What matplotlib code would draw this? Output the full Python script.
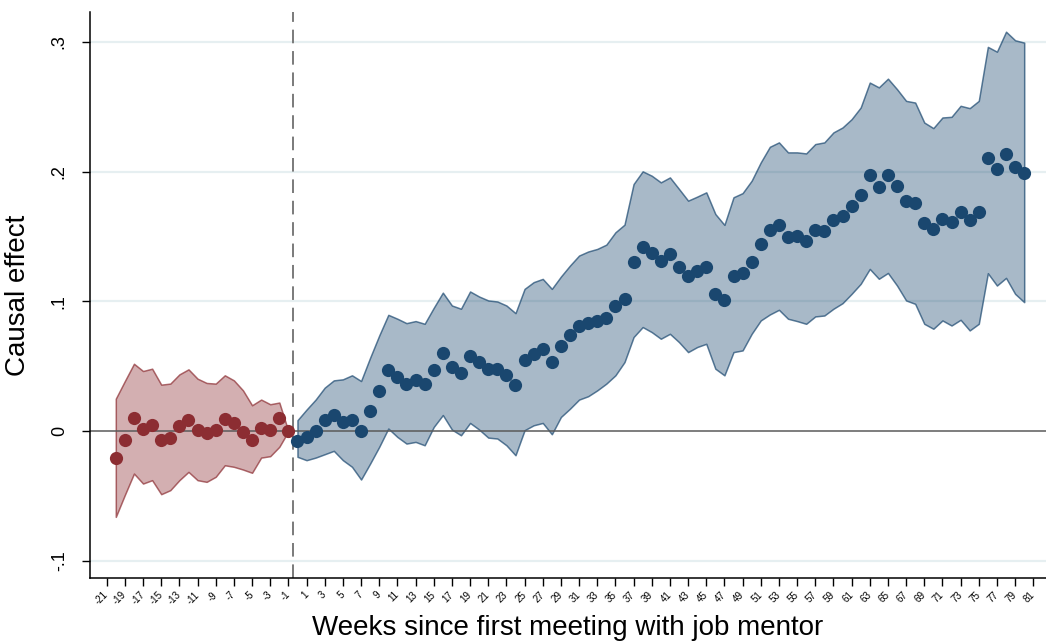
import matplotlib
matplotlib.use("Agg")
import matplotlib.pyplot as plt
import numpy as np

plt.rcParams["font.family"] = ["Liberation Sans", "DejaVu Sans"]

# pre-period estimates (weeks -20 .. -1), week -1 is the reference
pre_weeks = list(range(-20, 0))
pre_coef = [-0.021, -0.0064, 0.0102, 0.002, 0.0046, -0.0064, -0.0049, 0.0038, 0.0085, 0.0008,
            -0.0013, 0.0013, 0.0097, 0.0064, -0.0005, -0.0064, 0.0028, 0.0008, 0.0102, 0.0]
pre_hi = [0.0251, 0.0387, 0.052, 0.0464, 0.0482, 0.0359, 0.0367, 0.0438, 0.0477, 0.0405,
          0.0372, 0.0367, 0.0431, 0.0392, 0.0315, 0.02, 0.0244, 0.0208, 0.0221, 0.0]
pre_lo = [-0.066, -0.049, -0.0326, -0.0403, -0.0377, -0.0485, -0.0454, -0.0377, -0.0313, -0.0377,
          -0.039, -0.0351, -0.0262, -0.0274, -0.0295, -0.032, -0.0203, -0.0192, -0.012, 0.0]

# post-period estimates (weeks 0 .. 80)
post_weeks = list(range(0, 81))
post_coef = [-0.0074, -0.0044, 0.0002, 0.0085, 0.0128, 0.0072, 0.009, 0.0002, 0.0154, 0.031,
             0.0474, 0.0418, 0.0367, 0.0397, 0.0362, 0.047, 0.06, 0.0495, 0.0451, 0.058,
             0.0533, 0.0477, 0.0477, 0.0431, 0.0359, 0.0546, 0.0597, 0.0631, 0.0533, 0.0654,
             0.0744, 0.0808, 0.0835, 0.0849, 0.0874, 0.0962, 0.102, 0.1308, 0.1418, 0.1372,
             0.131, 0.1367, 0.1269, 0.1195, 0.1233, 0.1264, 0.1059, 0.1008, 0.12, 0.122,
             0.1308, 0.1444, 0.1554, 0.159, 0.1495, 0.1503, 0.1469, 0.1551, 0.1546, 0.1628,
             0.1662, 0.1733, 0.1821, 0.1977, 0.1886, 0.1975, 0.1892, 0.1772, 0.1756, 0.1603,
             0.1559, 0.1636, 0.1615, 0.1692, 0.1628, 0.1687, 0.2103, 0.2021, 0.2136, 0.2033,
             0.1987]
post_hi = [0.0085, 0.0167, 0.0244, 0.0336, 0.0392, 0.04, 0.0431, 0.0387, 0.0567, 0.0738,
           0.0897, 0.0867, 0.0833, 0.0849, 0.0828, 0.0951, 0.1068, 0.0969, 0.0944, 0.1077,
           0.1038, 0.1008, 0.1, 0.0969, 0.091, 0.1097, 0.1149, 0.1174, 0.1097, 0.1192,
           0.1277, 0.1354, 0.1385, 0.1405, 0.1438, 0.1533, 0.1592, 0.1905, 0.2003, 0.1969,
           0.1918, 0.1956, 0.1867, 0.1777, 0.1808, 0.1841, 0.1674, 0.159, 0.1803, 0.1835,
           0.1931, 0.2072, 0.2192, 0.2226, 0.2149, 0.2149, 0.2141, 0.2213, 0.2226, 0.2303,
           0.2341, 0.2405, 0.2495, 0.2687, 0.265, 0.2717, 0.2636, 0.2546, 0.2533, 0.2379,
           0.2336, 0.2418, 0.2423, 0.2508, 0.249, 0.2546, 0.2962, 0.2925, 0.3079, 0.3013,
           0.2995]
post_lo = [-0.0197, -0.0223, -0.0203, -0.0177, -0.0151, -0.0223, -0.0274, -0.0372, -0.0249, -0.012,
           0.0021, -0.0044, -0.0095, -0.0082, -0.0108, 0.0033, 0.0125, 0.0013, -0.0031, 0.0064,
           0.0013, -0.0049, -0.0056, -0.0108, -0.0185, 0.0008, 0.0046, 0.0064, -0.0023, 0.011,
           0.0174, 0.0244, 0.027, 0.0315, 0.0367, 0.0431, 0.0533, 0.0726, 0.0803, 0.0764,
           0.0713, 0.0751, 0.0687, 0.061, 0.0649, 0.0674, 0.0482, 0.0431, 0.061, 0.0623,
           0.0751, 0.0854, 0.09, 0.0936, 0.0867, 0.0849, 0.0828, 0.0885, 0.0892, 0.0944,
           0.0987, 0.1059, 0.1136, 0.1251, 0.1175, 0.122, 0.1123, 0.1008, 0.0982, 0.0828,
           0.079, 0.0854, 0.0815, 0.0859, 0.0777, 0.0828, 0.1218, 0.1123, 0.1182, 0.1059,
           0.0995]

xticks = list(range(-21, 82, 2))
yticks = [-0.1, 0, 0.1, 0.2, 0.3]
ytick_labels = ["-.1", "0", ".1", ".2", ".3"]

RED = (140 / 255, 45 / 255, 50 / 255)
BLUE = (26 / 255, 71 / 255, 111 / 255)

fig = plt.figure(figsize=(10.46, 6.44), dpi=100)
ax = fig.add_axes([90 / 1046, 1 - 578 / 644, (1046 - 90) / 1046, (578 - 12) / 644])

for y in yticks:
    if y != 0:
        ax.axhline(y, color="#e6eff1", linewidth=1.6, zorder=0)

for wk, coef, lo, hi, col in [(pre_weeks, pre_coef, pre_lo, pre_hi, RED),
                              (post_weeks, post_coef, post_lo, post_hi, BLUE)]:
    ax.fill_between(wk, lo, hi, facecolor=col + (0.38,), edgecolor=col + (0.7,),
                    linewidth=1.1, zorder=1)

ax.axhline(0, color="#5a5a5a", linewidth=1.1, zorder=2)
ax.axvline(-0.5, color="#7a7a7a", linewidth=1.4, linestyle=(0, (7, 4)), zorder=2)

ax.plot(pre_weeks, pre_coef, "o", color=RED, markersize=9.5, markeredgewidth=0, zorder=3)
ax.plot(post_weeks, post_coef, "o", color=BLUE, markersize=9.5, markeredgewidth=0, zorder=3)

ax.set_xlim(-22.84, 82.4)
ax.set_ylim(-0.1131, 0.3231)

ax.set_xticks(xticks)
ax.set_xticklabels([str(t) for t in xticks], rotation=45, ha="right", va="center",
                   rotation_mode="anchor", fontsize=7)
ax.set_yticks(yticks)
ax.set_yticklabels(ytick_labels, rotation=90, va="center", fontsize=13)

ax.tick_params(axis="x", direction="out", length=6, width=1, pad=5)
ax.tick_params(axis="y", direction="out", length=6, width=1, pad=10)

for side in ("top", "right"):
    ax.spines[side].set_visible(False)
for side in ("left", "bottom"):
    ax.spines[side].set_linewidth(1.1)

ax.set_xlabel("Weeks since first meeting with job mentor", fontsize=20, labelpad=6)
ax.set_ylabel("Causal effect", fontsize=20, labelpad=14)

fig.savefig("out.png", dpi=100)
